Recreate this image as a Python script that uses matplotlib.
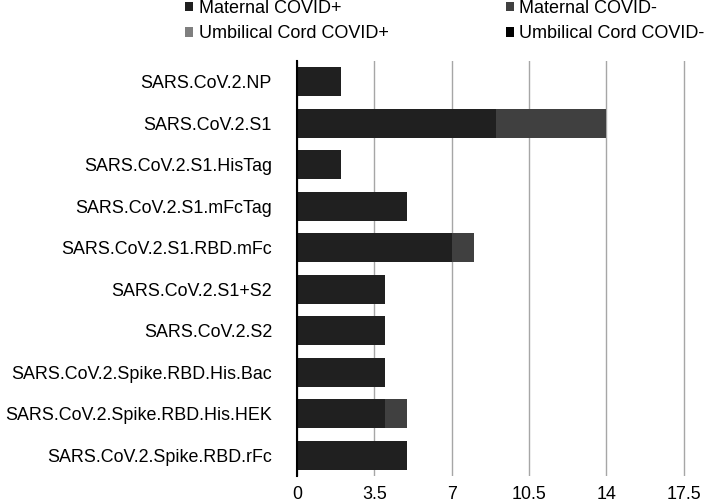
import numpy as np
import matplotlib.pyplot as plt

# ============================================================
# DATA
# ============================================================

categories = [
    "SARS.CoV.2.NP",
    "SARS.CoV.2.S1",
    "SARS.CoV.2.S1.HisTag",
    "SARS.CoV.2.S1.mFcTag",
    "SARS.CoV.2.S1.RBD.mFc",
    "SARS.CoV.2.S1+S2",
    "SARS.CoV.2.S2",
    "SARS.CoV.2.Spike.RBD.His.Bac",
    "SARS.CoV.2.Spike.RBD.His.HEK",
    "SARS.CoV.2.Spike.RBD.rFc",
]

maternal_pos = [2, 9, 2, 5, 7, 4, 4, 4, 4, 5]
maternal_neg = [0, 5, 0, 0, 1, 0, 0, 0, 1, 0]
cord_pos = [0, 0, 0, 0, 0, 0, 0, 0, 0, 0]
cord_neg = [0, 0, 0, 0, 0, 0, 0, 0, 0, 0]

series_names = [
    "Maternal COVID+",
    "Maternal COVID-",
    "Umbilical Cord COVID+",
    "Umbilical Cord COVID-",
]
series_colors = ["#202020", "#404040", "#7f7f7f", "#000000"]

xticks = [0, 3.5, 7, 10.5, 14, 17.5]

# ============================================================
# PLOT
# ============================================================

plt.rcParams['font.family'] = ['Liberation Sans', 'DejaVu Sans']

fs = 12.9

fig = plt.figure(figsize=(7.14, 5.04), dpi=100)
ax = fig.add_axes([297 / 714, 1 - 476 / 504, 1 - 297 / 714, 415 / 504])

y = np.arange(len(categories))
left = np.zeros(len(categories))
handles = []

for vals, name, col in zip(
    [maternal_pos, maternal_neg, cord_pos, cord_neg],
    series_names,
    series_colors
):
    vals = np.array(vals, dtype=float)
    h = ax.barh(y, vals, left=left, height=0.7, color=col, label=name, zorder=3)
    handles.append(h)
    left = left + vals

ax.set_yticks(y)
ax.set_yticklabels(categories, fontsize=fs)
ax.set_ylim(len(categories) - 0.5, -0.5)

ax.set_xlim(0, 18.87)
ax.set_xticks(xticks)
ax.set_xticklabels(["0", "3.5", "7", "10.5", "14", "17.5"], fontsize=fs)

ax.grid(True, axis='x', color='#a6a6a6', linewidth=1.0, zorder=0)
ax.tick_params(axis='both', length=0)
ax.tick_params(axis='y', pad=18)
ax.tick_params(axis='x', pad=7)

for s in ['top', 'right', 'bottom']:
    ax.spines[s].set_visible(False)
ax.spines['left'].set_color('black')
ax.spines['left'].set_linewidth(1.5)
ax.spines['left'].set_zorder(4)

# legend row-major: M+, M- / U+, U-
order = [0, 2, 1, 3]
fig.legend(
    [handles[i] for i in order],
    [series_names[i] for i in order],
    ncol=2,
    loc='upper left',
    bbox_to_anchor=(185 / 714, 1.0),
    frameon=False,
    fontsize=13.0,
    handlelength=0.45,
    handleheight=0.45,
    handletextpad=0.3,
    columnspacing=6.5,
    labelspacing=0.45,
    borderaxespad=0.0,
    borderpad=0.0,
)

plt.savefig("out.png", dpi=100)
